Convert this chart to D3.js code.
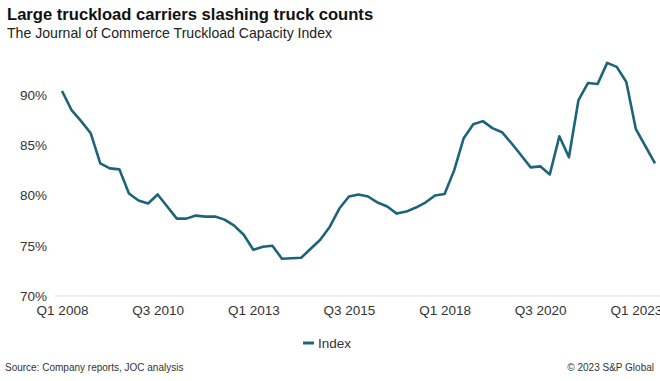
<!DOCTYPE html>
<html>
<head>
<meta charset="utf-8">
<script src="https://cdn.jsdelivr.net/npm/d3@7"></script>
<style>
    body { margin: 0; background: #fff; }
    svg { font-family: "Liberation Sans", Arial, Helvetica, sans-serif; }
</style>
</head>
<body>
<svg width="660" height="381"></svg>
<script>
// Quarters from Q1 2008 to Q3 2023
const quarters = [];
for (let y = 2008; y <= 2023; y++)
    for (let q = 1; q <= 4; q++)
        if (!(y == 2023 && q > 3))
            quarters.push('Q' + q + ' ' + y);

// Index values (percent)
const indexValues = [
    90.4, 88.5, 87.4, 86.2, 83.2, 82.7, 82.6, 80.2, 79.5, 79.2,
    80.1, 78.9, 77.7, 77.7, 78.0, 77.9, 77.9, 77.6, 77.0, 76.1,
    74.6, 74.9, 75.0, 73.7, 73.75, 73.8, 74.7, 75.6, 76.9, 78.7,
    79.9, 80.1, 79.9, 79.3, 78.9, 78.2, 78.4, 78.8, 79.3, 80.0,
    80.15, 82.5, 85.7, 87.1, 87.4, 86.7, 86.3, 85.2, 84.0, 82.8,
    82.9, 82.1, 85.9, 83.8, 89.5, 91.2, 91.1, 93.2, 92.8, 91.3,
    86.6, 84.9, 83.2
];

const xTickLabels = ['Q1 2008', 'Q3 2010', 'Q1 2013', 'Q3 2015', 'Q1 2018', 'Q3 2020', 'Q1 2023'];
const yTicks = [70, 75, 80, 85, 90];

const svg = d3.select('svg');

const x = d3.scalePoint()
    .domain(quarters)
    .range([62, 655]);

const y = d3.scaleLinear()
    .domain([70, 90])
    .range([296, 95]);

// Titles
svg.append('text')
    .attr('x', 7).attr('y', 20)
    .style('font-size', '16.6px')
    .style('font-weight', 'bold')
    .style('fill', '#111')
    .text('Large truckload carriers slashing truck counts');

svg.append('text')
    .attr('x', 7).attr('y', 38)
    .style('font-size', '14.1px')
    .style('fill', '#222')
    .text('The Journal of Commerce Truckload Capacity Index');

// Y axis labels (no gridlines, only baseline)
const yAxis = svg.append('g')
    .attr('transform', 'translate(47,0)')
    .call(d3.axisLeft(y).tickValues(yTicks).tickSize(0).tickPadding(0).tickFormat(d => d + '%'));
yAxis.select('.domain').remove();
yAxis.selectAll('text')
    .style('font-family', '"Liberation Sans", Arial, sans-serif')
    .style('font-size', '13.5px')
    .style('fill', '#333');

// Baseline at 70%
svg.append('line')
    .attr('x1', 55).attr('x2', 660)
    .attr('y1', y(70)).attr('y2', y(70))
    .style('stroke', '#dedede')
    .style('stroke-width', 1);

// X axis labels
const xAxis = svg.append('g')
    .attr('transform', 'translate(0,' + y(70) + ')')
    .call(d3.axisBottom(x).tickValues(xTickLabels).tickSize(0).tickPadding(9));
xAxis.select('.domain').remove();
xAxis.selectAll('text')
    .style('font-family', '"Liberation Sans", Arial, sans-serif')
    .style('font-size', '13.5px')
    .style('fill', '#333');

// Line
const line = d3.line()
    .x((d, i) => x(quarters[i]))
    .y(d => y(d));

svg.append('path')
    .datum(indexValues)
    .attr('d', line)
    .style('fill', 'none')
    .style('stroke', '#1c6478')
    .style('stroke-width', 2.6)
    .style('stroke-linejoin', 'round');

// Legend
const legend = svg.append('g').attr('transform', 'translate(303,343)');
legend.append('line')
    .attr('x1', 0).attr('x2', 11)
    .attr('y1', 0).attr('y2', 0)
    .style('stroke', '#1c6478')
    .style('stroke-width', 3);
legend.append('text')
    .attr('x', 15).attr('y', 5)
    .style('font-size', '13.5px')
    .style('fill', '#333')
    .text('Index');

// Footer
svg.append('text')
    .attr('x', 5).attr('y', 371)
    .style('font-size', '10px')
    .style('fill', '#333')
    .text('Source: Company reports, JOC analysis');

svg.append('text')
    .attr('x', 654).attr('y', 371)
    .attr('text-anchor', 'end')
    .style('font-size', '10px')
    .style('fill', '#333')
    .text('\u00a9 2023 S&P Global');
</script>
</body>
</html>
